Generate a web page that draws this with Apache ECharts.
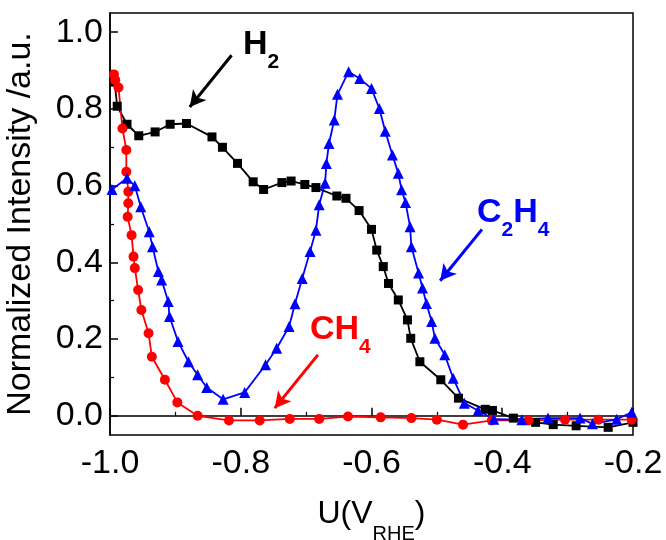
<!DOCTYPE html>
<html>
<head>
<meta charset="utf-8">
<script src="https://cdn.jsdelivr.net/npm/echarts@6/dist/echarts.min.js"></script>
<style>
  html, body { margin: 0; padding: 0; background: #fff; }
  #chart { width: 666px; height: 540px; }
</style>
</head>
<body>
<div id="chart"></div>
<script>
// x: potential U (V vs RHE), y: normalized intensity
const h2Data = [
  [-0.993, 0.87], [-0.989, 0.807], [-0.974, 0.76], [-0.956, 0.73], [-0.931, 0.74],
  [-0.908, 0.76], [-0.883, 0.762], [-0.844, 0.727], [-0.828, 0.70], [-0.805, 0.658],
  [-0.781, 0.61], [-0.765, 0.59], [-0.737, 0.608], [-0.723, 0.612], [-0.702, 0.603],
  [-0.685, 0.595], [-0.653, 0.573], [-0.639, 0.567], [-0.619, 0.535], [-0.600, 0.486],
  [-0.592, 0.432], [-0.582, 0.389], [-0.574, 0.345], [-0.559, 0.302], [-0.545, 0.25],
  [-0.540, 0.202], [-0.526, 0.141], [-0.494, 0.094], [-0.467, 0.046], [-0.426, 0.017],
  [-0.415, 0.014], [-0.383, -0.006], [-0.349, -0.017], [-0.322, -0.023], [-0.287, -0.026],
  [-0.238, -0.03], [-0.2, -0.017]
]

const c2h4Data = [
  [-0.997, 0.59], [-0.974, 0.619], [-0.962, 0.60], [-0.953, 0.545], [-0.940, 0.48],
  [-0.935, 0.441], [-0.926, 0.376], [-0.921, 0.354], [-0.911, 0.298], [-0.909, 0.259],
  [-0.896, 0.194], [-0.880, 0.141], [-0.866, 0.107], [-0.852, 0.074], [-0.827, 0.043],
  [-0.794, 0.061], [-0.762, 0.133], [-0.745, 0.176], [-0.726, 0.233], [-0.717, 0.292],
  [-0.706, 0.358], [-0.694, 0.428], [-0.685, 0.484], [-0.680, 0.55], [-0.671, 0.606],
  [-0.669, 0.658], [-0.665, 0.71], [-0.657, 0.771], [-0.652, 0.838], [-0.635, 0.897],
  [-0.618, 0.879], [-0.600, 0.853], [-0.588, 0.801], [-0.579, 0.742], [-0.568, 0.68],
  [-0.559, 0.632], [-0.554, 0.589], [-0.548, 0.556], [-0.541, 0.493], [-0.539, 0.441],
  [-0.528, 0.372], [-0.522, 0.333], [-0.516, 0.293], [-0.508, 0.246], [-0.503, 0.202],
  [-0.488, 0.159], [-0.475, 0.098], [-0.458, 0.033], [-0.437, 0.014], [-0.413, -0.009],
  [-0.370, -0.010], [-0.330, -0.006], [-0.281, -0.006], [-0.262, -0.021], [-0.225, -0.009],
  [-0.202, 0.009]
]

const ch4Data = [
  [-0.994, 0.89], [-0.992, 0.875], [-0.987, 0.856], [-0.981, 0.749], [-0.975, 0.693],
  [-0.975, 0.636], [-0.972, 0.584], [-0.972, 0.554], [-0.973, 0.519], [-0.967, 0.471],
  [-0.964, 0.415], [-0.962, 0.385], [-0.957, 0.328], [-0.952, 0.276], [-0.941, 0.215],
  [-0.936, 0.154], [-0.916, 0.094], [-0.897, 0.035], [-0.866, 0.0], [-0.818, -0.012],
  [-0.771, -0.012], [-0.725, -0.008], [-0.680, -0.008], [-0.636, -0.002], [-0.586, -0.004],
  [-0.539, -0.006], [-0.500, -0.01], [-0.460, -0.023], [-0.416, -0.012], [-0.360, -0.012],
  [-0.304, -0.01], [-0.253, -0.01], [-0.202, -0.01]
]

const yTicks = [0, 0.2, 0.4, 0.6, 0.8, 1.0]
const yMinorTicks = [0.1, 0.3, 0.5, 0.7, 0.9]

// arrows next to the labels, [from, to] in data units
const h2Arrow = [[-0.814, 0.940], [-0.878, 0.805]]
const c2h4Arrow = [[-0.431, 0.486], [-0.495, 0.352]]
const ch4Arrow = [[-0.682, 0.159], [-0.748, 0.020]]

const font = 'Arial, "Liberation Sans", sans-serif'

const chart = echarts.init(document.getElementById('chart'))

const arrow = (pts, color) => [
  { coord: pts[0], symbol: 'none', lineStyle: { color: color, width: 3, type: 'solid' } },
  { coord: pts[1], symbol: 'arrow', symbolSize: [13, 16] }
]

const subLabel = (parts, color, left, top) => ({
  type: 'text',
  left: left,
  top: top,
  z: 100,
  style: {
    text: parts,
    fill: color,
    rich: {
      a: { fontSize: 34, fontWeight: 'bold', fontFamily: font, fill: color, lineHeight: 34, verticalAlign: 'top' },
      b: { fontSize: 21, fontWeight: 'bold', fontFamily: font, fill: color, lineHeight: 21, verticalAlign: 'top', padding: [24, 0, 0, 0] }
    }
  }
})

const option = {
  animation: false,
  backgroundColor: '#fff',
  grid: {
    left: 110,
    right: 33,
    top: 13,
    bottom: 105,
    outerBoundsMode: 'none',
    show: true,
    borderColor: '#000',
    borderWidth: 1.5,
    backgroundColor: 'transparent'
  },
  xAxis: {
    type: 'value',
    min: -1.0,
    max: -0.2,
    interval: 0.2,
    name: '{n|U(V}{s|RHE}{n|)}',
    nameLocation: 'middle',
    nameGap: 63,
    nameTextStyle: {
      rich: {
        n: { fontSize: 32, fontFamily: font, color: '#000', lineHeight: 32, verticalAlign: 'top' },
        s: { fontSize: 20, fontFamily: font, color: '#000', lineHeight: 20, verticalAlign: 'top', padding: [26, 0, 0, 0] }
      }
    },
    axisLine: { lineStyle: { color: '#000', width: 1.5 } },
    axisTick: { inside: true, length: 8, lineStyle: { color: '#000', width: 1.5 } },
    minorTick: { show: true, splitNumber: 2, length: 4, lineStyle: { color: '#000', width: 1.2 } },
    splitLine: { show: false },
    axisLabel: {
      fontSize: 34,
      fontFamily: font,
      color: '#000',
      margin: 12,
      formatter: v => v.toFixed(1)
    }
  },
  yAxis: [
    {
      type: 'value',
      position: 'left',
      min: -0.05,
      max: 1.05,
      name: 'Normalized Intensity /a.u.',
      nameLocation: 'middle',
      nameGap: 72,
      nameTextStyle: { fontSize: 34, fontFamily: font, color: '#000' },
      axisLine: { lineStyle: { color: '#000', width: 1.5 } },
      axisTick: { inside: true, length: 8, customValues: yTicks, lineStyle: { color: '#000', width: 1.5 } },
      splitLine: { show: false },
      axisLabel: {
        fontSize: 34,
        fontFamily: font,
        color: '#000',
        margin: 7,
        customValues: yTicks,
        formatter: v => v.toFixed(1)
      }
    },
    {
      type: 'value',
      position: 'left',
      offset: 0,
      min: -0.05,
      max: 1.05,
      axisLine: { show: false },
      axisTick: { inside: true, length: 4, customValues: yMinorTicks, lineStyle: { color: '#000', width: 1.2 } },
      axisLabel: { show: false, customValues: yMinorTicks },
      splitLine: { show: false }
    }
  ],
  series: [
    {
      name: 'H2',
      type: 'line',
      data: h2Data,
      symbol: 'rect',
      symbolSize: 9,
      color: '#000',
      lineStyle: { color: '#000', width: 1.8 },
      itemStyle: { color: '#000' },
      markLine: {
        silent: true,
        label: { show: false },
        data: [arrow(h2Arrow, '#000'), arrow(c2h4Arrow, '#0000ff'), arrow(ch4Arrow, '#ff0000')]
      }
    },
    {
      name: 'CH4',
      type: 'line',
      data: ch4Data,
      symbol: 'circle',
      symbolSize: 10,
      color: '#ff0000',
      lineStyle: { color: '#ff0000', width: 1.8 },
      itemStyle: { color: '#ff0000' }
    },
    {
      name: 'C2H4',
      type: 'line',
      data: c2h4Data,
      symbol: 'triangle',
      symbolSize: 11,
      color: '#0000ff',
      lineStyle: { color: '#0000ff', width: 1.8 },
      itemStyle: { color: '#0000ff' }
    }
  ],
  graphic: [
    subLabel('{a|H}{b|2}', '#000', 243, 28),
    subLabel('{a|C}{b|2}{a|H}{b|4}', '#0000ff', 477, 196),
    subLabel('{a|CH}{b|4}', '#ff0000', 310, 313)
  ]
}

chart.setOption(option)

window.addEventListener('resize', () => {
  chart.resize()
})
</script>
</body>
</html>
